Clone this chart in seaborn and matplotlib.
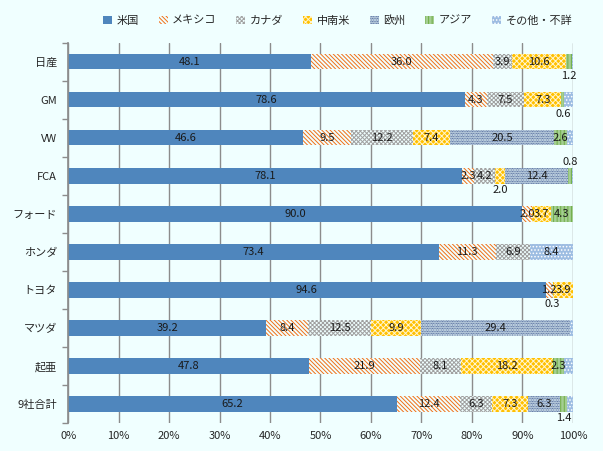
import numpy as np
import pandas as pd
import matplotlib.pyplot as plt
from matplotlib.patches import Patch
import seaborn as sns

sns.set_theme(style="white")
plt.rcParams['font.family'] = ['Noto Sans CJK JP', 'DejaVu Sans']
plt.rcParams['hatch.linewidth'] = 0.7

BG = "#F0FFFF"

companies = ["日産", "GM", "VW", "FCA", "フォード", "ホンダ", "トヨタ", "マツダ", "起亜", "9社合計"]
categories = ["米国", "メキシコ", "カナダ", "中南米", "欧州", "アジア", "その他・不詳"]

us = [48.1, 78.6, 46.6, 78.1, 90.0, 73.4, 94.6, 39.2, 47.8, 65.2]
mexico = [36.0, 4.3, 9.5, 2.3, 2.0, 11.3, 1.2, 8.4, 21.9, 12.4]
canada = [3.9, 7.5, 12.2, 4.2, 0.0, 6.9, 0.3, 12.5, 8.1, 6.3]
latam = [10.6, 7.3, 7.4, 2.0, 3.7, 0.0, 3.9, 9.9, 18.2, 7.3]
europe = [0.0, 0.0, 20.5, 12.4, 0.0, 0.0, 0.0, 29.4, 0.0, 6.3]
asia = [1.2, 0.6, 2.6, 0.8, 4.3, 0.0, 0.0, 0.0, 2.3, 1.4]
other = [0.2, 1.7, 1.2, 0.2, 0.0, 8.4, 0.0, 0.6, 1.7, 1.1]

series = [us, mexico, canada, latam, europe, asia, other]

# face colour, hatch colour, hatch pattern
styles = {
    "米国": ("#4F86BD", "#4F86BD", None),
    "メキシコ": (BG, "#F07018", "\\" * 8),
    "カナダ": (BG, "#A0A0A0", "x" * 8),
    "中南米": ("#FFC000", "#FFF6D0", "x" * 6),
    "欧州": (BG, "#23407F", "." * 10),
    "アジア": (BG, "#70AD47", "|" * 12),
    "その他・不詳": ("#9DBDE2", "white", "." * 5),
}

# labels moved off the bar
label_shift = {
    ("日産", "アジア"): 0.36, ("GM", "アジア"): 0.36, ("FCA", "中南米"): 0.36,
    ("FCA", "アジア"): -0.36, ("トヨタ", "カナダ"): 0.36, ("9社合計", "アジア"): 0.36,
}

df = pd.DataFrame(dict(zip(categories, series)), index=companies)
cum = df.cumsum(axis=1)

fig = plt.figure(figsize=(6.03, 4.51), dpi=100)
fig.patch.set_facecolor(BG)
ax = fig.add_axes([0.113, 0.062, 0.837, 0.843])
ax.set_facecolor(BG)

# draw cumulative bars from the largest down, each one covering the last
for cat in categories[::-1]:
    face, hcol, hatch = styles[cat]
    sns.barplot(x=cum[cat].values, y=companies, color=face, saturation=1,
                width=0.4, ax=ax, orient="h")
    for p in ax.containers[-1]:
        p.set_facecolor(face)
        p.set_edgecolor(hcol)
        p.set_linewidth(0)
        if hatch:
            p.set_hatch(hatch)

for i, comp in enumerate(companies):
    for cat in categories:
        v = df.loc[comp, cat]
        if v <= 0 or (cat == "その他・不詳" and v < 5):
            continue
        xc = cum.loc[comp, cat] - v / 2
        ax.text(xc, i + label_shift.get((comp, cat), 0), f"{v:.1f}",
                ha="center", va="center", fontsize=8, color="#1a1a1a")

ax.set_xlim(0, 100)
ax.set_ylim(len(companies) - 0.5, -0.5)
ax.set_xticks(np.arange(0, 101, 10))
ax.set_xticklabels([f"{t}%" for t in range(0, 101, 10)], fontsize=8)
ax.xaxis.grid(True, color="#8C8C8C", linewidth=1)
ax.set_axisbelow(True)
ax.set_yticks(range(len(companies)))
ax.set_yticklabels(companies, fontsize=8)
ax.set_yticks(np.arange(-0.5, len(companies)), minor=True)
ax.tick_params(axis="y", which="major", length=0, pad=8)
ax.tick_params(axis="y", which="minor", length=4, color="#8C8C8C", left=True)
ax.tick_params(axis="x", length=0, pad=6)
for s in ["top", "right", "bottom"]:
    ax.spines[s].set_visible(False)
ax.spines["left"].set_color("#8C8C8C")
ax.set_xlabel("")
ax.set_ylabel("")

handles = []
for cat in categories:
    face, hcol, hatch = styles[cat]
    handles.append(Patch(facecolor=face, edgecolor=hcol, hatch=hatch, linewidth=0, label=cat))
fig.legend(handles=handles, loc="center", bbox_to_anchor=(0.56, 0.955), ncol=7,
           frameon=False, fontsize=8, handlelength=0.8, handleheight=0.8,
           columnspacing=1.8, handletextpad=0.4)

fig.savefig("out.png", dpi=100, facecolor=fig.get_facecolor())
